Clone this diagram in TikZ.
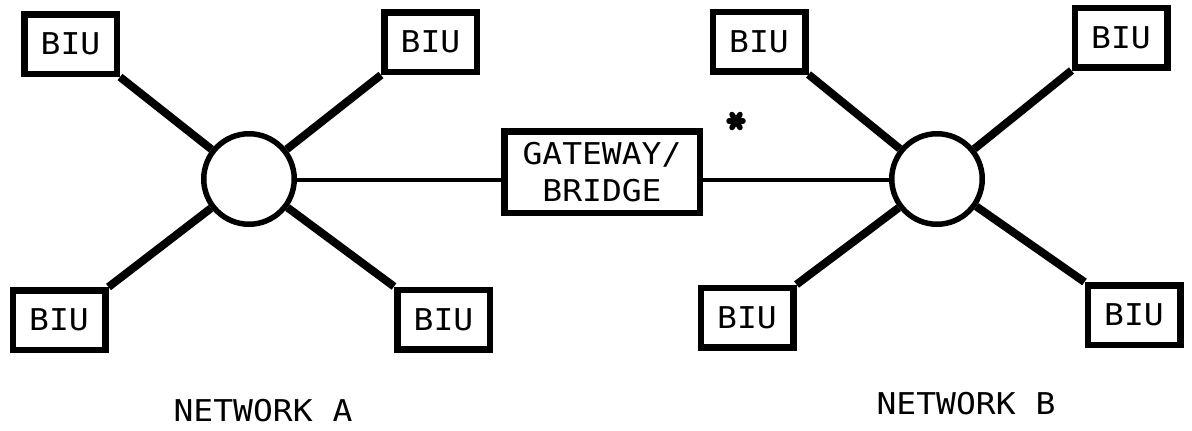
\documentclass[tikz,border=0pt]{standalone}
\usepackage{fontspec}
\newfontfamily\plotfont[FakeStretch=1.1]{DejaVu Sans Mono}
\begin{document}
\begin{tikzpicture}[x=1pt,y=-1pt,
  txt/.style={font=\plotfont\fontsize{30}{34}\selectfont},
  biu/.style={draw,line width=6.5pt,minimum width=92.5pt,minimum height=59.5pt,inner sep=0pt,txt},
  hub/.style={draw,circle,line width=5.5pt,minimum size=90.5pt,inner sep=0pt},
  gw/.style={draw,line width=6.5pt,minimum width=195.5pt,minimum height=81.5pt,inner sep=0pt,align=center,txt},
  spoke/.style={line width=8pt},
  link/.style={line width=4pt},
  astarm/.style={line width=5.5pt,line cap=round},
  lbl/.style={txt,inner sep=0pt}]
\useasboundingbox (0,0) rectangle (1192,431);
\fill[white] (0,0) rectangle (1192,431);
% Network A
\node[hub] (ha) at (249,179) {};
\node[biu] (a1) at (70.5,44) {BIU};
\node[biu] (a2) at (430.5,42) {BIU};
\node[biu] (a3) at (59,320) {BIU};
\node[biu] (a4) at (443.5,319.5) {BIU};
% Gateway
\node[gw] (gw) at (602,172) {GATEWAY/\\[3pt]BRIDGE};
\coordinate (ast) at (736,121);
\draw[astarm] ([shift={(-7,0)}]ast) -- ([shift={(7,0)}]ast);
\draw[astarm] ([shift={(-4,-6.5)}]ast) -- ([shift={(4,6.5)}]ast);
\draw[astarm] ([shift={(4,-6.5)}]ast) -- ([shift={(-4,6.5)}]ast);
% Network B
\node[hub] (hb) at (937,179) {};
\node[biu] (b1) at (759,41.5) {BIU};
\node[biu] (b2) at (1121,37.5) {BIU};
\node[biu] (b3) at (747,317.5) {BIU};
\node[biu] (b4) at (1134,315) {BIU};
% spokes
\draw[spoke] (a1.south east) -- (ha);
\draw[spoke] (a2.south west) -- (ha);
\draw[spoke] (a3.north east) -- (ha);
\draw[spoke] (a4.north west) -- (ha);
\draw[spoke] (b1.south east) -- (hb);
\draw[spoke] (b2.south west) -- (hb);
\draw[spoke] (b3.north east) -- (hb);
\draw[spoke] (b4.north west) -- (hb);
% links
\coordinate (ga) at (gw.west |- 0,180);
\coordinate (gb) at (gw.east |- 0,180);
\draw[link] (ha.east |- 0,180) -- (ga);
\draw[link] (gb) -- (hb.west |- 0,180);
% labels
\node[lbl] (na) at (263,411) {NETWORK A};
\node[lbl] (nb) at (966,404) {NETWORK B};
\end{tikzpicture}
\end{document}
